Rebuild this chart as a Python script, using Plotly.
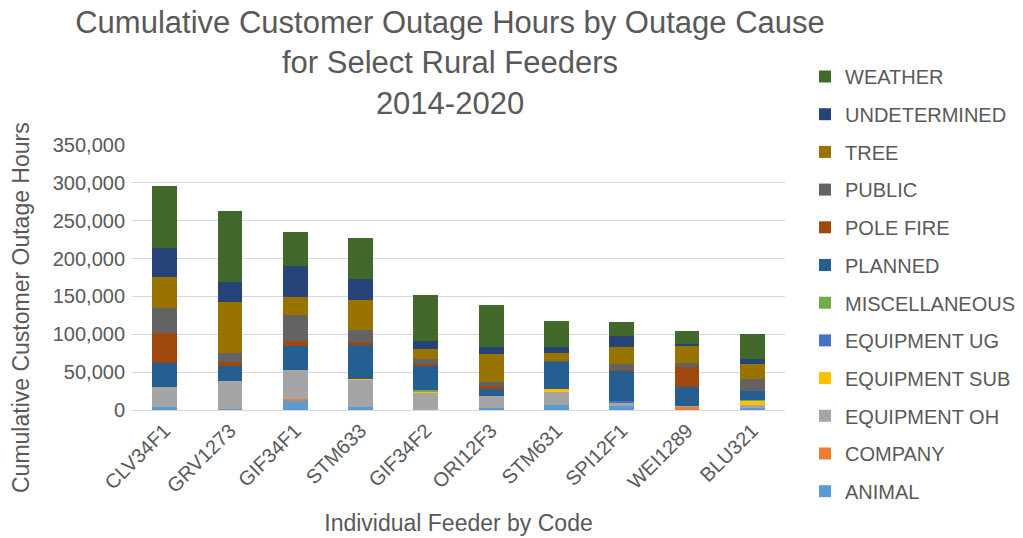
import plotly.graph_objects as go

feeders = ["CLV34F1", "GRV1273", "GIF34F1", "STM633", "GIF34F2", "ORI12F3", "STM631", "SPI12F1", "WEI1289", "BLU321"]

animal        = [4000, 1000, 11900, 4000, 500, 2200, 6200, 4800, 0, 2200]
company       = [500, 0, 2200, 0, 0, 0, 0, 0, 4400, 0]
equipment_oh  = [25500, 37000, 38800, 36100, 22000, 16300, 17600, 5700, 900, 4000]
equipment_sub = [0, 0, 0, 1300, 2200, 0, 3500, 0, 0, 6600]
equipment_ug  = [0, 0, 0, 0, 0, 0, 0, 1000, 0, 0]
miscellaneous = [0, 0, 0, 0, 1500, 0, 0, 0, 0, 900]
planned       = [31700, 19800, 32200, 44000, 32200, 9700, 36100, 40100, 25500, 11900]
pole_fire     = [40500, 5300, 6200, 4000, 2600, 4000, 1000, 900, 26400, 0]
public        = [32000, 12800, 34400, 15900, 6600, 4800, 800, 8800, 4400, 15400]
tree          = [41000, 67000, 23800, 40500, 13200, 37400, 10600, 22000, 23300, 19400]
undetermined  = [39200, 26000, 40100, 26900, 10600, 8800, 7000, 14500, 2600, 7000]
weather       = [81500, 93400, 45400, 55100, 60800, 55500, 34800, 18500, 17200, 33500]

series = [
    ("ANIMAL", animal, "#5B9BD5"),
    ("COMPANY", company, "#ED7D31"),
    ("EQUIPMENT OH", equipment_oh, "#A5A5A5"),
    ("EQUIPMENT SUB", equipment_sub, "#FFC000"),
    ("EQUIPMENT UG", equipment_ug, "#4472C4"),
    ("MISCELLANEOUS", miscellaneous, "#70AD47"),
    ("PLANNED", planned, "#255E91"),
    ("POLE FIRE", pole_fire, "#9E480E"),
    ("PUBLIC", public, "#636363"),
    ("TREE", tree, "#997300"),
    ("UNDETERMINED", undetermined, "#264478"),
    ("WEATHER", weather, "#43682B"),
]

fig = go.Figure()
n = len(series)
for i, (name, vals, color) in enumerate(series):
    fig.add_trace(go.Bar(
        name=name, x=feeders, y=vals,
        marker=dict(color=color, line=dict(width=0)),
        legendgroup=name,
        legendrank=n - i,
    ))

font_color = "#595959"
fig.update_layout(
    barmode="stack",
    bargap=0.62,
    width=1023, height=538,
    margin=dict(l=132, r=238, t=145, b=128, autoexpand=False),
    paper_bgcolor="white", plot_bgcolor="white",
    font=dict(family="Liberation Sans, Arial, sans-serif", color=font_color, size=20),
    title=dict(
        text="Cumulative Customer Outage Hours by Outage Cause<br>for Select Rural Feeders<br>2014-2020",
        x=450 / 1023, xanchor="center", xref="container",
        y=1 - 33 / 538, yanchor="middle", yref="container",
        font=dict(size=31, color=font_color),
    ),
    legend=dict(
        traceorder="grouped",
        tracegroupgap=8.7,
        xref="container", yref="container",
        x=805 / 1023, xanchor="left", y=1 - 57 / 538, yanchor="top",
        font=dict(size=20, color=font_color),
        itemwidth=30,
        maxheight=520,
    ),
    xaxis=dict(
        title=dict(text="Individual Feeder by Code", font=dict(size=23, color=font_color), standoff=19),
        tickangle=-45, tickfont=dict(size=20, color=font_color),
        showline=True, linecolor="#D9D9D9", linewidth=1,
        showgrid=False, ticks="", automargin=False,
    ),
    yaxis=dict(
        range=[0, 350000], dtick=50000, tickformat=",",
        tickfont=dict(size=20, color=font_color),
        ticklabelstandoff=6,
        showgrid=True, gridcolor="#D9D9D9", gridwidth=1,
        zeroline=False, ticks="", automargin=False,
    ),
    annotations=[dict(
        text="Cumulative Customer Outage Hours",
        xref="paper", yref="paper",
        x=-(132 - 21) / (1023 - 132 - 238), y=(410 - 308) / 265,
        xanchor="center", yanchor="middle", textangle=-90,
        showarrow=False, font=dict(size=23, color=font_color),
    )],
)

fig.write_html(
    "out.html",
    config={"displayModeBar": False},
    post_script="document.body.style.margin='0';document.body.style.overflow='hidden';",
)
